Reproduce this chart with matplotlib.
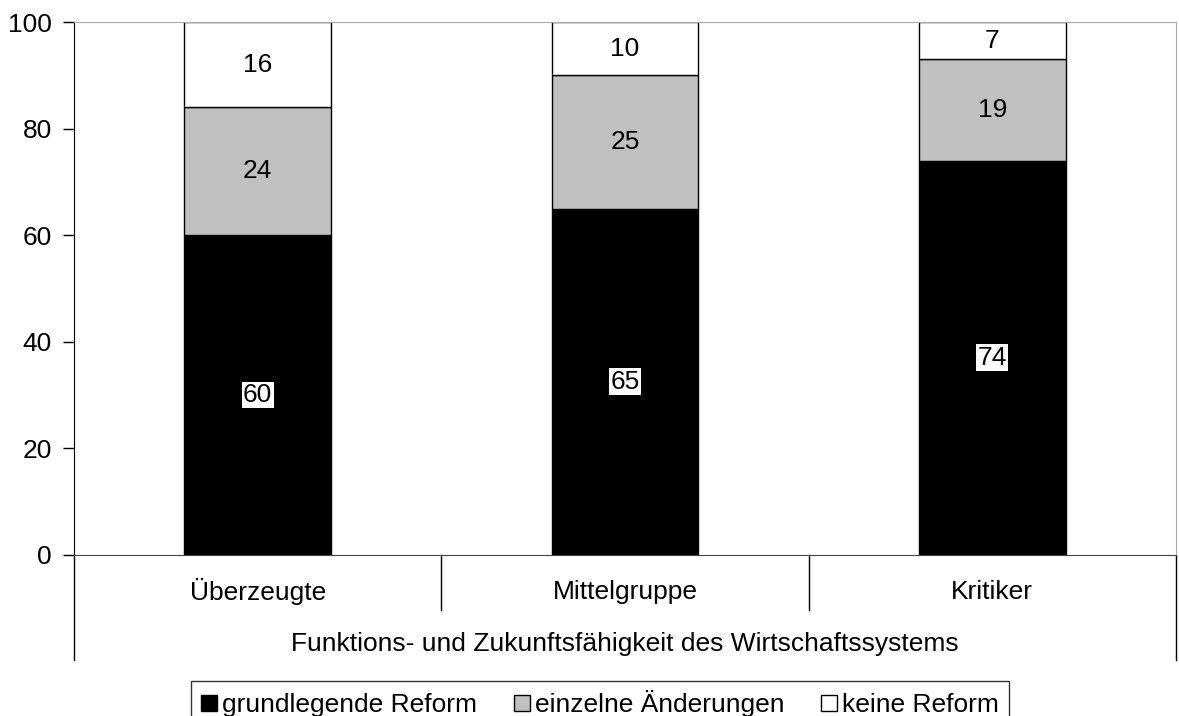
import matplotlib.pyplot as plt
import numpy as np

plt.rcParams['font.family'] = ['Liberation Sans', 'DejaVu Sans']

# Daten
gruppen = ['Überzeugte', 'Mittelgruppe', 'Kritiker']
grundlegend = [60, 65, 74]
einzelne = [24, 25, 19]
keine = [16, 10, 7]
serien = ['grundlegende Reform', 'einzelne Änderungen', 'keine Reform']
farben = ['#000000', '#c0c0c0', '#ffffff']
gruppen_titel = 'Funktions- und Zukunftsfähigkeit des Wirtschaftssystems'

fs = 19
fig = plt.figure(figsize=(11.79, 7.16), dpi=100)
ax = fig.add_axes([74 / 1179, 1 - 555 / 716, (1176 - 74) / 1179, (555 - 22) / 716])

x = np.arange(len(gruppen))
unten = np.zeros(len(gruppen))
balken = []
for werte, farbe, name in zip([grundlegend, einzelne, keine], farben, serien):
    b = ax.bar(x, werte, width=0.4, bottom=unten, color=farbe,
               edgecolor='black', linewidth=1.0, label=name)
    balken.append(b)
    for xi, u, w in zip(x, unten, werte):
        if farbe == '#000000':
            ax.text(xi, u + w / 2, str(w), ha='center', va='center', fontsize=fs,
                    bbox=dict(facecolor='white', edgecolor='none', pad=1))
        else:
            ax.text(xi, u + w / 2, str(w), ha='center', va='center', fontsize=fs)
    unten = unten + np.array(werte)

ax.set_xlim(-0.5, 2.5)
ax.set_ylim(0, 100)
ax.set_yticks(range(0, 101, 20))
ax.tick_params(axis='y', labelsize=fs, length=8, width=1, pad=8)
ax.set_xticks([])

for s in ['top', 'right']:
    ax.spines[s].set_color('#aaaaaa')
ax.spines['left'].set_color('black')
ax.spines['bottom'].set_color('#444444')

# Kategorie-Trenner und Beschriftungen unter der Achse
trans = ax.get_xaxis_transform()
for xs in [0.5, 1.5]:
    ax.plot([xs, xs], [0, -0.103], color='black', lw=1, transform=trans, clip_on=False)
for xs in [-0.5, 2.5]:
    ax.plot([xs, xs], [0, -0.197], color='black', lw=1, transform=trans, clip_on=False)
for xi, g in zip(x, gruppen):
    ax.text(xi, -0.064, g, ha='center', va='center_baseline', fontsize=fs, transform=trans)
ax.text(1, -0.162, gruppen_titel, ha='center', va='center_baseline', fontsize=fs, transform=trans)

leg = fig.legend(handles=balken, loc='upper center', bbox_to_anchor=(600 / 1179, 1 - 681 / 716),
                 ncol=3, fontsize=fs, frameon=True, fancybox=False, edgecolor='black',
                 handlelength=0.6, handleheight=0.6, handletextpad=0.2, columnspacing=1.4,
                 borderpad=0.35, borderaxespad=0)
leg.get_frame().set_linewidth(1)

fig.savefig('out.png', dpi=100)
